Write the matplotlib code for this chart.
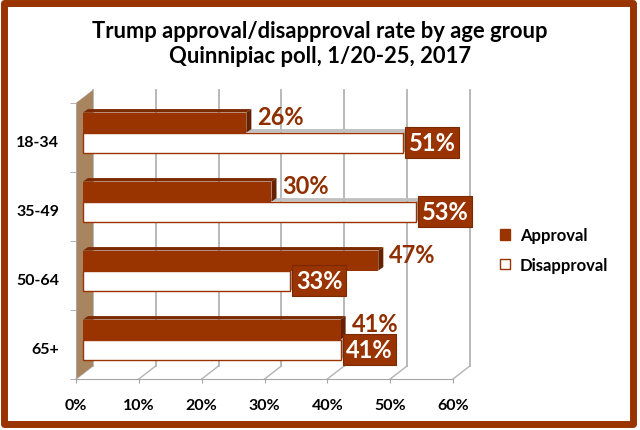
import matplotlib.pyplot as plt
import matplotlib.transforms as mtransforms
from matplotlib.patches import Polygon, Patch, Rectangle

# data
groups = ['18-34', '35-49', '50-64', '65+']
approval = [26, 30, 47, 41]
disapproval = [51, 53, 33, 41]
ticks = [0, 10, 20, 30, 40, 50, 60]

plt.rcParams['font.family'] = ['Lato', 'DejaVu Sans']

red = '#993300'
grey = '#b3b3b3'

fig = plt.figure(figsize=(6.4, 4.31), dpi=100)
ax = fig.add_axes([76/640, 51/431, 377/640, 276/431])
ax.set_xlim(0, 60)
ax.set_ylim(3.5, -0.5)
ax.patch.set_visible(False)

# depth of the back wall and of the bar plane (data units)
DX, DY = 2.7, 0.19
BX, BY = 1.11, 0.072
h = 0.29
bdx, bdy = 0.8, 0.05

# back wall grid + floor diagonals
for t in ticks:
    ax.plot([t + DX, t + DX], [3.5 - DY, -0.5 - DY], color=grey, lw=1.3,
            clip_on=False, zorder=1)
    ax.plot([t, t + DX], [3.5, 3.5 - DY], color=grey, lw=1.0,
            clip_on=False, zorder=1)

# left wall
ax.add_patch(Polygon([(0, -0.5), (DX, -0.5 - DY), (DX, 3.5 - DY), (0, 3.5)],
                     fc='#a8845f', ec='none', zorder=2, clip_on=False))


def faces(v, yc, top_c, side_c, z):
    x1 = BX + v
    y0, y1 = yc - h/2, yc + h/2
    ax.add_patch(Polygon([(BX, y0), (x1, y0), (x1 + bdx, y0 - bdy), (BX + bdx, y0 - bdy)],
                         fc=top_c, ec='none', zorder=z, clip_on=False))
    ax.add_patch(Polygon([(x1, y0), (x1, y1), (x1 + bdx, y1 - bdy), (x1 + bdx, y0 - bdy)],
                         fc=side_c, ec='none', zorder=z, clip_on=False))


ya = [i - BY - h/2 for i in range(len(groups))]
yd = [i - BY + h/2 for i in range(len(groups))]

for i in range(len(groups)):
    faces(disapproval[i], yd[i], '#c0c0c0', '#a6a6a6', 3)
    faces(approval[i], ya[i], '#7b2900', '#652100', 4)

ax.barh(ya, approval, height=h, left=BX, color=red, zorder=4)
ax.barh(yd, disapproval, height=h, left=BX, color='white', edgecolor=red,
        linewidth=1, zorder=5)

for i in range(len(groups)):
    ax.annotate(f'{approval[i]}%', xy=(BX + approval[i], ya[i]), xytext=(8, 4),
                textcoords='offset points', ha='left', va='center', color='#8f2f00',
                fontsize=17, fontweight='bold', zorder=6, annotation_clip=False)
    ax.annotate(f'{disapproval[i]}%', xy=(BX + disapproval[i], yd[i]), xytext=(4, 0),
                textcoords='offset points', ha='left', va='center', color='white',
                fontsize=17, fontweight='bold', zorder=7, annotation_clip=False,
                bbox=dict(boxstyle='square,pad=0.15', fc=red, ec='#7a2a00', lw=0.8))

# axes
for s in ['top', 'right']:
    ax.spines[s].set_visible(False)
for s in ['left', 'bottom']:
    ax.spines[s].set_color('#a6a6a6')
ax.set_xticks(ticks)
ax.set_xticklabels([f'{t}%' for t in ticks], fontsize=11.5, fontweight='bold')
ax.tick_params(axis='x', length=3, color='#a6a6a6', pad=11)
ax.set_yticks(range(len(groups)))
ax.set_yticklabels(groups, fontsize=11.5, fontweight='bold')
ax.set_yticks([-0.5, 0.5, 1.5, 2.5, 3.5], minor=True)
ax.tick_params(axis='y', which='major', length=0, pad=12)
ax.tick_params(axis='y', which='minor', length=4.3, color='#a6a6a6')
shift = mtransforms.ScaledTranslation(0, -3/100, fig.dpi_scale_trans)
for lab in ax.get_yticklabels():
    lab.set_transform(lab.get_transform() + shift)

handles = [Patch(fc=red, ec=red, label='Approval'),
           Patch(fc='white', ec=red, label='Disapproval')]
fig.legend(handles=handles, loc='center left', bbox_to_anchor=(500/640, 180/431),
           frameon=False, prop={'weight': 'bold', 'size': 12}, handlelength=0.6,
           handleheight=0.6, handletextpad=0.6, labelspacing=0.8,
           borderaxespad=0, borderpad=0)

fig.text(0.5, 1 - 44/431, 'Trump approval/disapproval rate by age group\nQuinnipiac poll, 1/20-25, 2017',
         ha='center', va='center', fontsize=15.8, fontweight='bold', linespacing=1.25)

fig.patches.append(Rectangle((3.5/640, 6.5/431), 629/640, 421/431,
                             transform=fig.transFigure, fill=False, ec=red,
                             lw=5, joinstyle='round'))

fig.savefig('out.png', dpi=100)
